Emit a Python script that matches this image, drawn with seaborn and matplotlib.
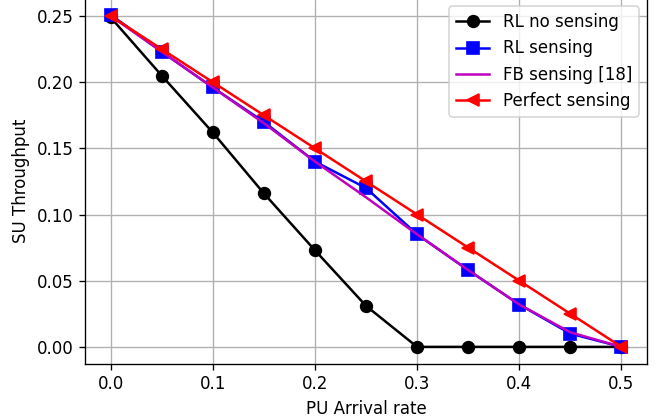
import matplotlib
matplotlib.use("Agg")
import matplotlib.pyplot as plt
import seaborn as sns
import pandas as pd

arrival_rate = [0.0, 0.05, 0.1, 0.15, 0.2, 0.25, 0.3, 0.35, 0.4, 0.45, 0.5]
rl_no_sensing = [0.249, 0.205, 0.162, 0.116, 0.073, 0.031, 0.0, 0.0, 0.0, 0.0, 0.0]
rl_sensing = [0.251, 0.223, 0.196, 0.170, 0.140, 0.120, 0.085, 0.058, 0.032, 0.010, 0.000]
fb_sensing = [0.250, 0.223, 0.196, 0.169, 0.140, 0.113, 0.085, 0.058, 0.032, 0.011, 0.000]
perfect_sensing = [0.250, 0.225, 0.200, 0.175, 0.150, 0.125, 0.100, 0.075, 0.050, 0.025, 0.000]

series = [
    ("RL no sensing", rl_no_sensing, "k", "o"),
    ("RL sensing", rl_sensing, "b", "s"),
    ("FB sensing [18]", fb_sensing, "m", None),
    ("Perfect sensing", perfect_sensing, "r", "<"),
]

plt.rcParams["font.family"] = ["DejaVu Sans"]
plt.rcParams["font.size"] = 10

dpi = 120
fig = plt.figure(figsize=(657 / dpi, 419 / dpi), dpi=dpi)
ax = fig.add_axes([85 / 657, (419 - 363.5) / 419, 562 / 657, 365.5 / 419])

for name, vals, color, marker in series:
    df = pd.DataFrame({"x": arrival_rate, "y": vals})
    kws = dict(color=color, linewidth=1.5, label=name)
    if marker is not None:
        kws.update(marker=marker, markersize=7, markeredgecolor=color,
                   markerfacecolor=color, markeredgewidth=1)
    sns.lineplot(data=df, x="x", y="y", ax=ax, **kws)

ax.set_xticks([0.0, 0.1, 0.2, 0.3, 0.4, 0.5])
ax.set_xlabel("PU Arrival rate")
ax.set_ylabel("SU Throughput")
ax.grid(True, color="#b0b0b0", linewidth=0.8)
ax.legend(loc="upper right")

fig.savefig("out.png", dpi=dpi)
